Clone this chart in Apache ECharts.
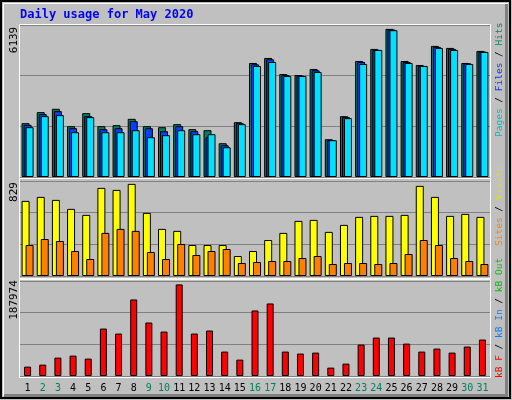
<!DOCTYPE html>
<html>
<head>
<meta charset="utf-8">
<script src="https://cdn.jsdelivr.net/npm/echarts@6/dist/echarts.min.js"></script>
<style>html,body{margin:0;padding:0;background:#c0c0c0;}#chart{width:512px;height:400px;}</style>
</head>
<body>
<div id="chart"></div>
<script>
// 数据
var days = ['1','2','3','4','5','6','7','8','9','10','11','12','13','14','15','16','17','18','19','20','21','22','23','24','25','26','27','28','29','30','31'];
var weekends = ['2','3','9','10','16','17','23','24','30','31'];
var hits = [2231,2689,2827,2107,2647,2107,2148,2411,2107,2065,2190,1982,1940,1400,2273,4726,4934,4269,4227,4477,1566,2522,4809,5308,6139,4809,4643,5433,5350,4726,5225];
var files = [2162,2606,2730,2023,2522,1982,2023,2314,2023,1899,2107,1899,1649,1317,2231,4671,4879,4227,4200,4421,1525,2481,4768,5267,6111,4768,4602,5391,5308,4712,5197];
var pages = [2065,2522,2564,1857,2481,1857,1857,1940,1649,1732,1940,1774,1774,1233,2190,4602,4768,4186,4186,4352,1525,2439,4685,5267,6084,4726,4602,5350,5267,4685,5184];
var visits = [676,712,685,604,550,793,775,829,568,424,406,279,279,279,180,225,324,388,496,505,397,460,532,541,541,550,811,712,541,559,532];
var sites = [279,333,315,225,153,388,424,406,216,153,288,189,225,243,117,126,135,135,162,180,108,117,117,108,117,198,324,279,162,135,108];
var kbytes = [19200,23300,37700,41800,35700,97400,87100,157100,109800,91200,188000,87100,93300,50100,33600,134500,148900,50100,46000,48000,17200,25400,64500,78900,78900,66500,50100,56300,48000,60400,74800];

var mono = '"DejaVu Sans Mono", monospace';
var border = {borderColor:'#000', borderWidth:1};

function xAx(i, show) {
    return {
        type:'category', data:days, gridIndex:i,
        axisLine:{show:false}, axisTick:{show:false},
        axisLabel:{
            show:show, interval:0, margin:7, fontFamily:mono, fontSize:10,
            formatter:function (v) { return weekends.indexOf(v) >= 0 ? '{w|' + v + '}' : '{d|' + v + '}'; },
            rich:{w:{color:'#008060', fontFamily:mono, fontSize:10}, d:{color:'#000', fontFamily:mono, fontSize:10}}
        }
    };
}
function yAx(i, max, interval) {
    return {
        type:'value', gridIndex:i, min:0, max:max, interval:interval,
        axisLabel:{show:false}, axisLine:{show:false}, axisTick:{show:false},
        splitLine:{lineStyle:{color:'#808080', width:1}}
    };
}
function vtext(x, y, parts) {
    var rich = {}, txt = '';
    parts.forEach(function (p, k) {
        rich['p' + k] = {fill:p[1], font:'9.5px ' + mono};
        txt += '{p' + k + '|' + p[0] + '}';
    });
    return {type:'text', x:x, y:y, rotation:Math.PI / 2,
        style:{text:txt, rich:rich, textAlign:'left', textVerticalAlign:'middle', font:'9.5px ' + mono}};
}
function panel(top, h) {
    return {type:'rect', shape:{x:19.5, y:top - 0.5, width:471, height:h + 1},
        style:{fill:'none', stroke:'#fff', lineWidth:1}};
}

var chart = echarts.init(document.getElementById('chart'));
chart.setOption({
    backgroundColor:'#c0c0c0',
    animation:false,
    grid:[
        {left:20, width:470, top:25, height:152},
        {left:20, width:470, top:181, height:95},
        {left:20, width:470, top:281, height:95}
    ],
    xAxis:[xAx(0, false), xAx(1, false), xAx(2, true)],
    yAxis:[yAx(0, 6300, 2100), yAx(1, 855, 285), yAx(2, 195000, 65000)],
    series:[
        {type:'bar', name:'Hits', data:hits, xAxisIndex:0, yAxisIndex:0, barWidth:8, barGap:'-75%', itemStyle:Object.assign({color:'#008060'}, border)},
        {type:'bar', name:'Files', data:files, xAxisIndex:0, yAxisIndex:0, barWidth:8, barGap:'-75%', itemStyle:Object.assign({color:'#0040ff'}, border)},
        {type:'bar', name:'Pages', data:pages, xAxisIndex:0, yAxisIndex:0, barWidth:8, barGap:'-75%', itemStyle:Object.assign({color:'#00e0ff'}, border)},
        {type:'bar', name:'Visits', data:visits, xAxisIndex:1, yAxisIndex:1, barWidth:8, barGap:'-50%', itemStyle:Object.assign({color:'#ffff00'}, border)},
        {type:'bar', name:'Sites', data:sites, xAxisIndex:1, yAxisIndex:1, barWidth:8, barGap:'-50%', itemStyle:Object.assign({color:'#ff8000'}, border)},
        {type:'bar', name:'kB F', data:kbytes, xAxisIndex:2, yAxisIndex:2, barWidth:7, itemStyle:Object.assign({color:'#ff0000'}, border)}
    ],
    graphic:[
        {type:'rect', shape:{x:1, y:1, width:509, height:397}, style:{fill:'none', stroke:'#000', lineWidth:2}},
        {type:'rect', shape:{x:3.5, y:3.5, width:504, height:392}, style:{fill:'none', stroke:'#fff', lineWidth:1}},
        {type:'rect', shape:{x:505, y:4, width:3, height:393}, style:{fill:'#808080'}},
        {type:'rect', shape:{x:4, y:394, width:504, height:3}, style:{fill:'#808080'}},
        panel(25, 152), panel(179, 99), panel(280, 97),
        {type:'text', x:20, y:15, style:{text:'Daily usage for May 2020', fill:'#0000ff', font:'bold 12px ' + mono, textVerticalAlign:'middle'}},
        {type:'text', x:14, y:40, rotation:Math.PI / 2, style:{text:'6139', fill:'#000', font:'11px ' + mono, textAlign:'center', textVerticalAlign:'middle'}},
        {type:'text', x:14, y:192, rotation:Math.PI / 2, style:{text:'829', fill:'#000', font:'11px ' + mono, textAlign:'center', textVerticalAlign:'middle'}},
        {type:'text', x:14, y:300, rotation:Math.PI / 2, style:{text:'187974', fill:'#000', font:'11px ' + mono, textAlign:'center', textVerticalAlign:'middle'}},
        vtext(500, 137, [['Pages', '#00c0c0'], [' / ', '#000'], ['Files', '#0040ff'], [' / ', '#000'], ['Hits', '#008060']]),
        vtext(500, 246, [['Sites', '#ff8000'], [' / ', '#000'], ['Visits', '#e0e000']]),
        vtext(500, 378, [['kB F', '#ff0000'], [' / ', '#000'], ['kB In', '#0080ff'], [' / ', '#000'], ['kB Out', '#00c000']])
    ]
});
</script>
</body>
</html>
